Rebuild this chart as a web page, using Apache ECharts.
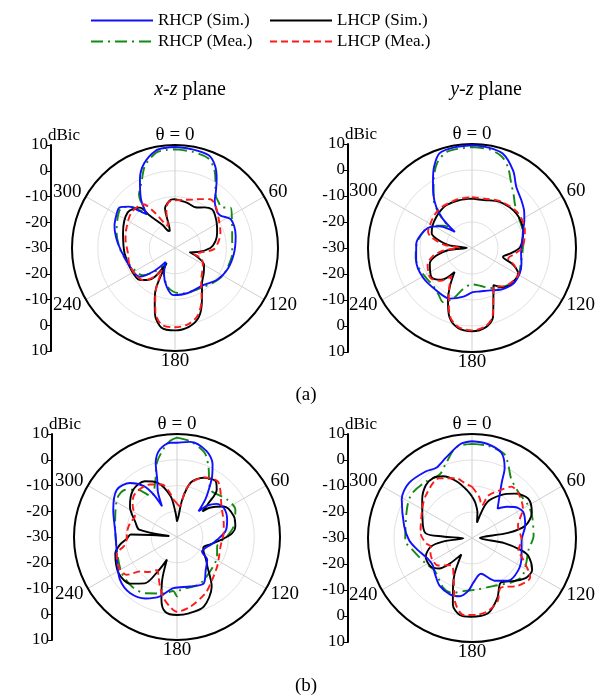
<!DOCTYPE html>
<html><head><meta charset="utf-8">
<script src="https://cdn.jsdelivr.net/npm/echarts@6/dist/echarts.min.js"></script>
<style>html,body{margin:0;padding:0;background:#fff}#c{width:606px;height:696px}</style>
</head><body><div id="c"></div>
<script>
// ---- names / ticks ----
const seriesNames = ['RHCP (Sim.)', 'LHCP (Sim.)', 'RHCP (Mea.)', 'LHCP (Mea.)'];
const angleTicks = [0, 60, 120, 180, 240, 300];
const radiusTicks = [-30, -20, -10, 0, 10];
const figLabels = ['(a)', '(b)'];
const unitLabel = 'dBic';

// ---- data: [theta (deg), gain (dBic)] ----
// (a) x-z plane
const a_xz_rhcp_sim = [[0,9.2],[10,8.9],[20,8.3],[26,5.5],[31,1.4],[36,-3],[40,-6],[44,-7.4],[50,-8.5],[55,-8.2],[62,-5.8],[70,-5.5],[79,-6],[95,-7],[112,-8],[127,-9.5],[142,-11.8],[165,-11.8],[182,-11.7],[192,-14.6],[203,-19],[214,-23.5],[222,-18],[231,-12.3],[256,-10.5],[275,-7.7],[290,-5],[300,-3.8],[306,-3.3],[312,-6],[316,-10],[320,-13],[325,-7],[333,0],[340,5],[349,8.6],[355,9.1]];
const a_xz_lhcp_sim = [[0,-11],[14.5,-11.8],[28,-12.2],[36,-10.5],[43.7,-9.2],[50,-9.8],[62.5,-11.6],[70,-12.6],[80,-14],[90,-16.3],[100,-21],[106,-24],[111,-21],[120,-17],[131,-15.2],[142.7,-12.7],[152.7,-7.2],[161,-1.6],[170,1.1],[180,2],[189.6,1.4],[197,-3.3],[202,-9],[205.6,-13.4],[209,-23.3],[215,-16.4],[221,-13.5],[228,-11.5],[243,-11],[264,-10.3],[286,-9],[307,-7],[319,-9.2],[322,-14],[332,-20],[340,-23],[343,-23],[346,-14],[350,-12.5],[355,-11.2]];
const a_xz_rhcp_mea = [[0,8.3],[10,8],[20,7.2],[26,4.5],[31,0.5],[37,-3.9],[44,-5.5],[49,-6],[54,-3.3],[63,-5.2],[78,-7.3],[95,-7.7],[110,-8.2],[121,-8.6],[134,-10.1],[143.5,-11.3],[155,-11.8],[169.5,-12],[182,-13],[192,-15],[203,-19],[212,-21.5],[220.6,-18],[230,-13.5],[238.7,-12.4],[255,-10.5],[270,-8.5],[285,-6.5],[300,-4.5],[307,-4],[313,-6.5],[317,-10],[321,-11.5],[326,-5],[332,-2],[340,4],[349,7.8],[355,8.2]];
const a_xz_lhcp_mea = [[0,-11.5],[10,-11],[20,-10],[28,-8.5],[36,-6.6],[45,-7.5],[57,-9.7],[71.5,-11.4],[82,-13],[92,-15],[100,-20],[106,-22.5],[112,-19],[120,-17.5],[131,-16],[142,-13.5],[152,-8],[161,-2.5],[170,0],[180,0.8],[190,0.2],[197,-4],[202,-9.5],[206,-14],[210,-20],[216,-16],[224,-12.5],[235,-11.5],[250,-11.2],[264,-11.6],[280,-10.5],[291,-9.7],[309,-8.2],[324,-9],[330,-14],[338,-20],[343,-21],[347,-15],[352,-12]];

// (a) y-z plane
const a_yz_rhcp_sim = [[0,9.5],[8,9.2],[18,8.2],[28,3.7],[36,-1],[46,-3.6],[55,-5.5],[62,-7.2],[71,-9.2],[80,-10.3],[96.5,-11],[108,-10],[118,-9.2],[131,-9],[145,-10.5],[157,-12.3],[170,-13],[179,-13],[190,-11],[204,-8.7],[220,-8.7],[239,-8],[257.5,-8],[274.5,-8.5],[290,-10.5],[298,-12.5],[304,-15],[310,-19],[313,-21],[315,-14],[319,-9],[325,-4],[330,0],[335,4.5],[341,8.5],[350,9.3]];
const a_yz_lhcp_sim = [[0,-11],[14,-11],[31,-9.3],[52,-8.4],[71,-9.2],[89,-11.5],[98,-15],[106,-17.6],[112,-13],[119,-9.7],[130,-9.5],[141,-10.5],[150,-13.5],[155,-10.5],[163,-2.3],[170,0.9],[180,2],[190,1.2],[198,-2],[204.6,-7.8],[210,-13],[216,-18.6],[224,-13],[234.5,-10.8],[249.7,-12.7],[258,-16],[265,-21],[271,-28],[277,-21],[284.7,-15.9],[290,-13.5],[300,-12.5],[311,-11.8],[320,-11.2],[329,-10.8],[345.5,-11]];
const a_yz_rhcp_mea = [[0,8.8],[10,8.5],[18,7],[24,4],[31.4,-1],[38,-4],[44,-6.3],[52,-8],[60,-8.8],[70,-9.3],[80,-10],[92,-10.5],[104,-10.5],[118,-9.5],[130,-9.5],[142,-11],[155,-13],[167,-15],[180,-16],[192,-14],[200,-9.5],[208,-6.4],[216,-8],[226,-9.2],[236,-9],[248,-8.3],[260,-8],[275,-8.7],[290,-10.5],[300,-13],[308,-16],[312,-18],[316,-12],[322,-6],[330,-0.5],[338,5.5],[346,8.3]];
const a_yz_lhcp_mea = [[0,-10.5],[14,-10.5],[31,-9],[52,-7.8],[71,-8.5],[89,-10.5],[98,-13.5],[106,-15.5],[112,-12.5],[119,-9.5],[130,-9.8],[141,-11],[150,-13],[155,-10.5],[163,-2.8],[170,0.5],[180,1.7],[190,0.8],[198,-2.5],[204.6,-8.5],[210,-12.5],[216,-16.5],[224,-12.5],[234.5,-10.3],[249.7,-11.8],[258,-14.5],[265,-19],[271,-25],[277,-19],[284.7,-14],[290,-12],[300,-11.5],[311,-10.8],[320,-10.5],[329,-10.5],[345.5,-10.5]];

// (b) x-z plane
const b_xz_rhcp_sim = [[0,6.6],[8,7.3],[19,5.3],[26,1.5],[30,-2.7],[34,-8],[37,-11.7],[40,-17],[44,-13],[50,-10],[58,-8.6],[71,-9.4],[83,-11],[94,-14.4],[103,-16.5],[111,-18.2],[120,-18.8],[127,-15.3],[139,-13],[150,-9.2],[165,-10.1],[184,-10.1],[196,-6],[207,-3.2],[220,-1.6],[233,-2.3],[249,-5],[262,-6.2],[274,-6],[293,-3.1],[308,-0.3],[319,-2.2],[327,-6.4],[331,-11],[334,-16.7],[337,-11],[341,-6.4],[344,0],[349,4.7],[356,6.7]];
const b_xz_lhcp_sim = [[0,-24],[4,-22],[8,-15.3],[14,-8.3],[24,-4.8],[34.5,-3.6],[40,-6],[43,-12],[45,-16],[48,-13],[57,-8.3],[70,-6.5],[80,-7],[86,-8.5],[93,-12.4],[103,-17],[112,-19],[120,-18],[127,-16],[134,-13.6],[145,-6.5],[159,-1],[171,0],[180,0.3],[189,-0.6],[194,-5],[199,-12.3],[204,-20.4],[209,-15],[215,-8],[225,-4.4],[238,-3.3],[255,-5.2],[262,-7.5],[268,-10.5],[273,-12],[277,-27],[281,-15],[289,-13],[303,-8.2],[317,-5],[330,-5],[340,-7.5],[351,-13.9],[356,-20]];
const b_xz_rhcp_mea = [[0,8.6],[8,7.5],[18,4.5],[24,0],[30,-5],[36,-7.7],[45,-7],[53,-5.7],[65,-5],[79,-7.5],[89,-10.5],[103,-14],[116,-12.7],[131,-11.8],[150,-10.1],[161,-9.7],[176,-9.5],[180,-7],[184,-9],[193,-7.5],[209,-5],[222,-4],[237,-4.4],[258,-6.1],[280,-5.6],[302,-2.5],[312,-2.7],[320,-6],[328,-11.4],[338,-7.3],[345,0],[351,4.4],[356,7.5]];
const b_xz_lhcp_mea = [[0,-17],[5,-18],[10,-12],[15,-8],[25,-4.5],[36,-3.2],[45,-6],[53,-8.5],[62,-10],[75,-11.2],[85,-11.8],[102,-12.7],[115,-12],[126,-10.7],[141,-8.4],[153,-5.6],[169,-2.5],[180,-1],[186,-2.9],[193,-6],[199,-9.7],[205,-13],[211,-15],[219,-12.5],[227,-10.4],[233,-5.6],[243,-4.5],[255,-5.8],[260,-9],[268,-10.5],[275,-10.5],[287,-11],[296,-11.8],[305,-9],[313,-6.9],[324,-6.5],[333,-7.1],[344,-8.8],[350,-12],[355,-15.5]];

// (b) y-z plane
const b_yz_rhcp_sim = [[0,7.2],[9,6.7],[19,4.7],[25,-0.3],[28,-5.5],[33,-10.5],[41,-15],[48,-12],[54,-9.7],[63,-7.9],[77,-9],[92,-10.9],[111,-9.6],[125,-8.3],[140,-8.5],[152,-11.4],[166,-15.8],[178,-12.9],[184,-9.6],[192,-7.1],[201,-6.7],[214,-7.8],[225,-10],[235,-11.6],[245,-11.2],[258,-8.5],[268,-5.8],[280,-3.5],[299,0.9],[311,2.2],[325,1.2],[333,0.3],[342,2.5],[353,6.4]];
const b_yz_lhcp_sim = [[0,-14],[5,-16.2],[12,-20],[18,-23.8],[23,-15],[34,-10.1],[44,-6.3],[55,-3.6],[67,-5],[77,-9],[82,-16],[90,-27],[99,-17.4],[104,-10.4],[108,-7.1],[118,-3.8],[126,-4.1],[135,-6.7],[147,-9.6],[157,-5],[168,-0.4],[181,0.3],[189,0],[196,-3.3],[201,-9.6],[206,-14.7],[213,-22.5],[221,-17],[227,-12.8],[235,-10.7],[248,-10.8],[258,-13.8],[263,-18.7],[268,-26.7],[273,-18.8],[276,-12],[291,-9.6],[308,-5.7],[319,-3],[327,-2.5],[335,-3.8],[345,-7.5],[354,-11.5]];
const b_yz_rhcp_mea = [[0,6.2],[9.5,6],[21,4.6],[27,1],[33,-2.5],[45,-4.9],[60,-5],[70,-5.4],[88,-6.3],[102,-7.8],[115,-7],[128,-5.7],[138,-7.1],[155,-9.7],[174,-10.1],[189,-9.3],[200,-7.5],[210,-7.9],[229,-10.9],[241,-9.7],[259,-6.6],[268,-4.3],[294,-2.6],[306,-1.3],[321,-2],[333,-2.6],[340,0],[350,5.4]];
const b_yz_lhcp_mea = [[0,-10.3],[10,-14],[17,-16.9],[21,-12.5],[31,-8.4],[37.5,-5.1],[48,-5.5],[60,-7.4],[75,-11.7],[92,-10.9],[105,-11.5],[112,-9],[124,-3],[136,-4.5],[150,-7.9],[158,-3.7],[168,-1.2],[177,-0.4],[186,-0.2],[195,-4.7],[205,-13.3],[217,-16.9],[231,-13.2],[240,-12.6],[250,-13],[258,-13.8],[264,-12],[276,-10.1],[300,-7.9],[313,-5.8],[331,-3.8],[345,-6.2],[352,-8.5]];

// ---- build ----
const panelData = [
  [a_xz_rhcp_sim, a_xz_lhcp_sim, a_xz_rhcp_mea, a_xz_lhcp_mea],
  [a_yz_rhcp_sim, a_yz_lhcp_sim, a_yz_rhcp_mea, a_yz_lhcp_mea],
  [b_xz_rhcp_sim, b_xz_lhcp_sim, b_xz_rhcp_mea, b_xz_lhcp_mea],
  [b_yz_rhcp_sim, b_yz_lhcp_sim, b_yz_rhcp_mea, b_yz_lhcp_mea]
];
const layout = [
  {center:[175,248], r:103, axisX:51},
  {center:[472,248], r:104, axisX:348},
  {center:[177,537], r:103, axisX:52},
  {center:[472,538], r:104, axisX:348}
];
const FONT = '"Liberation Serif","Times New Roman",serif';
const styles = [
  {color:'#1010ff', type:'solid', z:4},
  {color:'#000000', type:'solid', z:3},
  {color:'#138a13', type:[12,5,2,5], z:2},
  {color:'#ff1a1a', type:[7,4], z:5}
];
const rMin = radiusTicks[0], rMax = radiusTicks[radiusTicks.length-1];

const legendCommon = {orient:'vertical', top:7, itemWidth:62, itemHeight:12, itemGap:4,
  itemStyle:{opacity:0},
  textStyle:{fontFamily:FONT, fontSize:17, color:'#000'}};

const angleLabelRich = {
  top:{fontFamily:FONT, fontSize:19, lineHeight:10},
  side:{fontFamily:FONT, fontSize:19, lineHeight:4},
  low:{fontFamily:FONT, fontSize:19, lineHeight:6},
  bot:{fontFamily:FONT, fontSize:19, lineHeight:10}
};
function angleLabel(v) {
  if (!angleTicks.includes(v)) return '';
  if (v === 0) return '{top|θ = 0}';
  if (v === 180) return '{bot|180}';
  if (v === 60 || v === 300) return '{side|' + v + '}';
  return '{low|' + v + '}';
}

const graphics = [
  {type:'text', x:190, y:90, style:{text:'{i|x}-{i|z} plane', textAlign:'center', textVerticalAlign:'middle', font:'20px '+FONT, fill:'#000',
    rich:{i:{fontStyle:'italic', fontSize:20, fontFamily:FONT}}}},
  {type:'text', x:486, y:90, style:{text:'{i|y}-{i|z} plane', textAlign:'center', textVerticalAlign:'middle', font:'20px '+FONT, fill:'#000',
    rich:{i:{fontStyle:'italic', fontSize:20, fontFamily:FONT}}}},
  {type:'text', x:306, y:395, style:{text:figLabels[0], textAlign:'center', textVerticalAlign:'middle', font:'19px '+FONT, fill:'#000'}},
  {type:'text', x:306, y:686, style:{text:figLabels[1], textAlign:'center', textVerticalAlign:'middle', font:'19px '+FONT, fill:'#000'}}
];
layout.forEach(l => {
  graphics.push({type:'text', x:l.axisX - 3, y:l.center[1] - l.r - 1,
    style:{text:unitLabel, textAlign:'left', textVerticalAlign:'bottom', font:'17px '+FONT, fill:'#000'}});
});

const option = {
  animation: false,
  backgroundColor: '#fff',
  legend: [
    Object.assign({data:[seriesNames[0], seriesNames[2]], left:85}, legendCommon),
    Object.assign({data:[seriesNames[1], seriesNames[3]], left:264}, legendCommon)
  ],
  polar: layout.map(l => ({center: l.center, radius: l.r})),
  angleAxis: layout.map((l, i) => ({
    polarIndex: i, type:'value', min:0, max:360, interval:60, startAngle:90, clockwise:true,
    axisLine:{lineStyle:{color:'#000', width:2}},
    axisTick:{show:false},
    splitLine:{lineStyle:{color:'#cfcfcf', width:1}},
    axisLabel:{fontFamily:FONT, fontSize:19, color:'#000', margin:5, formatter: angleLabel, rich: angleLabelRich}
  })),
  radiusAxis: layout.map((l, i) => ({
    polarIndex: i, type:'value', min:rMin, max:rMax, interval:10,
    axisLine:{show:false}, axisTick:{show:false}, axisLabel:{show:false},
    splitLine:{lineStyle:{color:'#e2e2e2', width:1}}
  })),
  grid: layout.map(l => ({left:l.axisX, top:l.center[1]-l.r, width:10, height:2*l.r})),
  xAxis: layout.map((l, i) => ({gridIndex:i, type:'value', show:false, min:0, max:1})),
  yAxis: layout.map((l, i) => ({
    gridIndex:i, type:'value', min:-(rMax-rMin), max:(rMax-rMin), interval:10, position:'left',
    axisLine:{show:true, lineStyle:{color:'#000', width:2}},
    axisTick:{show:true, length:4, lineStyle:{color:'#000', width:1}},
    axisLabel:{fontFamily:FONT, fontSize:17, color:'#000', margin:3,
      formatter: v => String(Math.abs(v) + rMin)},
    splitLine:{show:false}
  })),
  graphic: graphics,
  series: []
};

panelData.forEach((curves, i) => {
  curves.forEach((pts, k) => {
    const closed = pts.concat([[pts[0][0] + 360, pts[0][1]]]);
    option.series.push({
      type:'line', name:seriesNames[k], coordinateSystem:'polar', polarIndex:i,
      data: closed.map(p => [p[1], p[0]]),
      symbol:'none', smooth:0.3, z:styles[k].z,
      lineStyle:{color:styles[k].color, width:1.9, type:styles[k].type},
      itemStyle:{color:styles[k].color}
    });
  });
});

const chart = echarts.init(document.getElementById('c'), null, {renderer:'canvas'});
chart.setOption(option);
</script>
</body></html>
